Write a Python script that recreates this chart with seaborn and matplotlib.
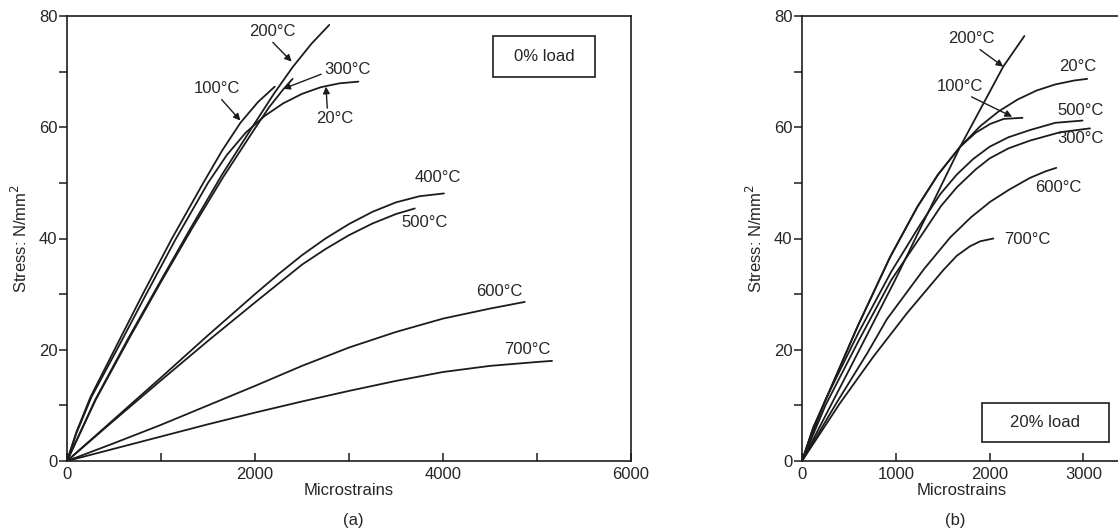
import matplotlib
matplotlib.use("Agg")
import matplotlib.pyplot as plt
import seaborn as sns
from matplotlib.patches import Rectangle
from matplotlib.ticker import MultipleLocator

# ---------------- data: panel (a) 0% load ----------------
a20_strain = [0, 100, 260, 540, 830, 1150, 1500, 1700, 1900, 2100, 2300, 2500, 2700, 2900, 3100]
a20_stress = [0, 5, 11.5, 20.3, 29.6, 39.7, 50, 55, 59, 62, 64.3, 66, 67.2, 67.9, 68.2]
a100_strain = [0, 100, 250, 520, 800, 1110, 1450, 1650, 1845, 2030, 2210]
a100_stress = [0, 5.2, 11.5, 20.5, 29.8, 39.8, 50, 55.8, 60.8, 64.5, 67.3]
a200_strain = [0, 300, 650, 1000, 1320, 1650, 1970, 2200, 2400, 2600, 2790]
a200_stress = [0, 11, 22, 32.5, 42, 51.5, 60, 66, 70.8, 75, 78.4]
a300_strain = [0, 305, 660, 1010, 1330, 1660, 1980, 2150, 2300, 2400]
a300_stress = [0, 11, 22, 32.5, 41.8, 51, 59.3, 63.6, 66.8, 68.7]
a400_strain = [0, 500, 1000, 1500, 2000, 2250, 2500, 2750, 3000, 3250, 3500, 3750, 4010]
a400_stress = [0, 7.5, 15, 22.6, 30, 33.6, 37.0, 40.0, 42.6, 44.8, 46.5, 47.6, 48.1]
a500_strain = [0, 500, 1000, 1500, 2000, 2250, 2500, 2750, 3000, 3250, 3500, 3700]
a500_stress = [0, 7.3, 14.5, 21.6, 28.5, 31.9, 35.3, 38.1, 40.6, 42.7, 44.4, 45.4]
a600_strain = [0, 500, 1000, 1500, 2000, 2500, 3000, 3500, 4000, 4500, 4870]
a600_stress = [0, 3.2, 6.5, 10, 13.5, 17.1, 20.4, 23.2, 25.6, 27.4, 28.6]
a700_strain = [0, 500, 1000, 1500, 2000, 2500, 3000, 3500, 4000, 4500, 5000, 5160]
a700_stress = [0, 2.2, 4.4, 6.6, 8.7, 10.7, 12.6, 14.4, 16.0, 17.1, 17.8, 18.0]

# ---------------- data: panel (b) 20% load ----------------
b20_strain = [0, 120, 265, 590, 940, 1230, 1450, 1686, 1900, 2100, 2300, 2500, 2700, 2900, 3040]
b20_stress = [0, 6, 11.5, 24.1, 36.7, 45.7, 51.5, 56.5, 60.2, 62.9, 65, 66.6, 67.7, 68.4, 68.7]
b100_strain = [0, 120, 265, 590, 940, 1230, 1450, 1686, 1850, 2006, 2150, 2350]
b100_stress = [0, 6, 11.5, 24.1, 36.7, 45.7, 51.5, 56.5, 59, 60.6, 61.5, 61.7]
b200_strain = [0, 500, 1000, 1686, 2145, 2370]
b200_stress = [0, 16.3, 32.8, 56.5, 70.9, 76.4]
b300_strain = [0, 250, 600, 950, 1310, 1480, 1650, 1850, 2000, 2200, 2430, 2750, 3070]
b300_stress = [0, 10, 21.5, 32.5, 41.5, 45.8, 49.2, 52.4, 54.4, 56.2, 57.6, 59.1, 59.8]
b500_strain = [0, 250, 600, 950, 1260, 1475, 1650, 1825, 2000, 2200, 2430, 2700, 2990]
b500_stress = [0, 11, 23, 34, 42.5, 48, 51.5, 54.3, 56.5, 58.2, 59.5, 60.8, 61.2]
b600_strain = [0, 370, 700, 905, 1300, 1580, 1800, 2006, 2200, 2430, 2600, 2710]
b600_stress = [0, 10.5, 19.5, 25.5, 34.5, 40.2, 43.8, 46.6, 48.7, 50.9, 52.1, 52.7]
b700_strain = [0, 405, 758, 1120, 1505, 1650, 1790, 1900, 2040]
b700_stress = [0, 10.4, 18.7, 26.6, 34.3, 36.9, 38.6, 39.5, 40]

a_ticks = [0, 2000, 4000, 6000]
b_ticks = [0, 1000, 2000, 3000]
y_ticks = [0, 20, 40, 60, 80]

sns.set_style("white")
plt.rcParams['font.family'] = ['Liberation Sans', 'DejaVu Sans']

INK = "#1c1c1c"
LW = 1.3
W, H = 1118, 531
fig = plt.figure(figsize=(W / 100, H / 100), dpi=100)

def px_axes(l, t, r, b):
    return fig.add_axes([l / W, 1 - b / H, (r - l) / W, (b - t) / H])

axa = px_axes(67, 16, 631, 461)
axb = px_axes(802, 16, 1121, 461)

def draw(ax, xs, ys, lw=LW):
    sns.lineplot(x=xs, y=ys, ax=ax, color=INK, lw=lw, sort=False,
                 estimator=None, legend=False)

for xs, ys in [(a20_strain, a20_stress), (a100_strain, a100_stress),
               (a200_strain, a200_stress), (a300_strain, a300_stress),
               (a400_strain, a400_stress), (a500_strain, a500_stress),
               (a600_strain, a600_stress), (a700_strain, a700_stress)]:
    draw(axa, xs, ys)

for xs, ys in [(b20_strain, b20_stress), (b100_strain, b100_stress),
               (b200_strain, b200_stress), (b300_strain, b300_stress),
               (b500_strain, b500_stress), (b600_strain, b600_stress),
               (b700_strain, b700_stress)]:
    draw(axb, xs, ys)

def style(ax, xmax, xticks, xminor):
    ax.set_xlim(0, xmax)
    ax.set_ylim(0, 80)
    ax.set_xticks(xticks)
    ax.set_yticks(y_ticks)
    if xminor:
        ax.xaxis.set_minor_locator(MultipleLocator(xminor))
    ax.yaxis.set_minor_locator(MultipleLocator(10))
    ax.tick_params(axis='x', which='both', direction='in', length=6,
                   width=1.1, color=INK, labelsize=12, pad=4,
                   bottom=True)
    ax.tick_params(axis='y', which='both', direction='out', length=6,
                   width=1.1, color=INK, labelsize=12, pad=1, left=True)
    for s in ax.spines.values():
        s.set_color(INK)
        s.set_linewidth(1.2)
        s.set_visible(True)
    ax.set_xlabel("Microstrains", fontsize=12, labelpad=1)
    ax.set_ylabel("Stress: N/mm$^2$", fontsize=12, labelpad=6)

style(axa, 6000, a_ticks, 1000)
style(axb, 3400, b_ticks, None)

fs = 12
arw = dict(arrowstyle="-|>", color=INK, lw=1.0, mutation_scale=10,
           shrinkA=0, shrinkB=0)

# panel (a) labels
axa.annotate("200°C", xy=(2390, 71.8), xytext=(2180, 77.2), fontsize=fs,
             ha='center', va='center', arrowprops=dict(arw, relpos=(0.45, 0)))
axa.annotate("100°C", xy=(1845, 61.2), xytext=(1590, 66.9), fontsize=fs,
             ha='center', va='center', arrowprops=dict(arw, relpos=(0.55, 0)))
axa.annotate("300°C", xy=(2300, 66.9), xytext=(2985, 70.3), fontsize=fs,
             ha='center', va='center', arrowprops=dict(arw, relpos=(0, 0.3)))
axa.annotate("20°C", xy=(2755, 67.3), xytext=(2850, 61.5), fontsize=fs,
             ha='center', va='center', arrowprops=dict(arw, relpos=(0.3, 1)))
axa.text(3950, 50.9, "400°C", fontsize=fs, ha='center', va='center')
axa.text(3800, 42.8, "500°C", fontsize=fs, ha='center', va='center')
axa.text(4600, 30.4, "600°C", fontsize=fs, ha='center', va='center')
axa.text(4900, 20.0, "700°C", fontsize=fs, ha='center', va='center')
axa.add_patch(Rectangle((4530, 69.1), 1090, 7.3, fill=False, ec=INK, lw=1.2))
axa.text(5075, 72.8, "0% load", fontsize=fs, ha='center', va='center')

# panel (b) labels
axb.annotate("200°C", xy=(2145, 70.9), xytext=(1800, 75.9), fontsize=fs,
             ha='center', va='center', arrowprops=dict(arw, relpos=(0.6, 0)))
axb.annotate("100°C", xy=(2240, 61.9), xytext=(1686, 67.4), fontsize=fs,
             ha='center', va='center', arrowprops=dict(arw, relpos=(0.6, 0)))
axb.text(2935, 70.9, "20°C", fontsize=fs, ha='center', va='center')
axb.text(2965, 63.1, "500°C", fontsize=fs, ha='center', va='center')
axb.text(2965, 57.9, "300°C", fontsize=fs, ha='center', va='center')
axb.text(2730, 49.1, "600°C", fontsize=fs, ha='center', va='center')
axb.text(2150, 39.9, "700°C", fontsize=fs, ha='left', va='center')
axb.add_patch(Rectangle((1920, 3.4), 1350, 7.0, fill=False, ec=INK, lw=1.2))
axb.text(2595, 7.0, "20% load", fontsize=fs, ha='center', va='center')

# captions
fig.text(353 / W, 1 - 520 / H, "(a)", fontsize=12, ha='center', va='center')
fig.text(955 / W, 1 - 520 / H, "(b)", fontsize=12, ha='center', va='center')

fig.savefig("out.png", dpi=100)
